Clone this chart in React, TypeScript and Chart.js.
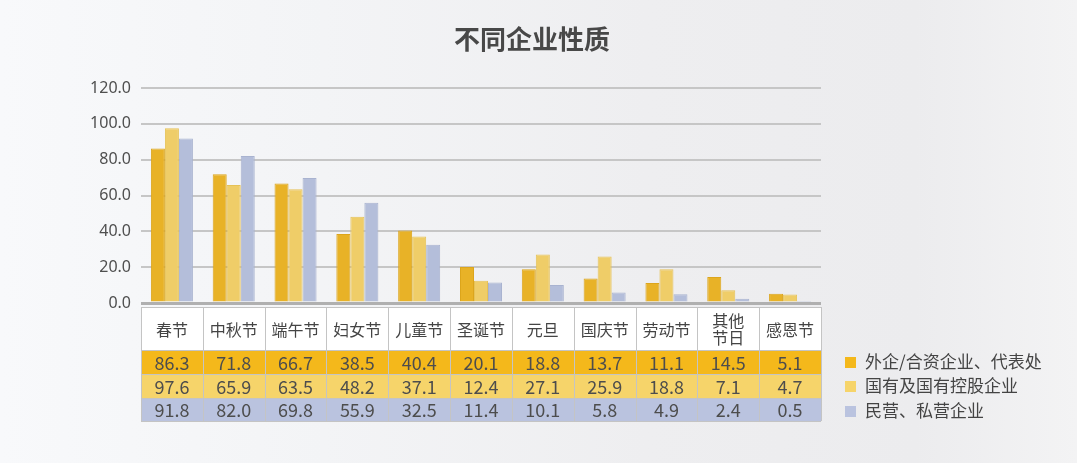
import React, { useEffect, useRef } from "react";
import { Chart, registerables } from "chart.js";

Chart.register(...registerables);

const title = "不同企业性质";
const categories = ["春节", "中秋节", "端午节", "妇女节", "儿童节", "圣诞节", "元旦", "国庆节", "劳动节", "其他\n节日", "感恩节"];
const seriesNames = ["外企/合资企业、代表处", "国有及国有控股企业", "民营、私营企业"];
const foreignJV = [86.3, 71.8, 66.7, 38.5, 40.4, 20.1, 18.8, 13.7, 11.1, 14.5, 5.1];
const stateOwned = [97.6, 65.9, 63.5, 48.2, 37.1, 12.4, 27.1, 25.9, 18.8, 7.1, 4.7];
const privateEnt = [91.8, 82.0, 69.8, 55.9, 32.5, 11.4, 10.1, 5.8, 4.9, 2.4, 0.5];
const yTicks = [0, 20, 40, 60, 80, 100, 120];

const barColors = ["#E8B227", "#EFCD68", "#B4BEDA"];
const barBorders = ["#DCA51C", "#E6C257", "#A9B3D0"];
const rowColors = ["#F4B81B", "#F6D46A", "#BAC3DF"];

const FONT = '"Noto Sans CJK SC", "Noto Sans", sans-serif';

const tablePlugin = {
  id: "tableAndTitle",
  beforeDraw(chart: any) {
    const { ctx, width, height } = chart;
    ctx.save();
    const g = ctx.createLinearGradient(0, 0, width, 0);
    g.addColorStop(0, "#f8f9fb");
    g.addColorStop(0.3, "#f3f4f6");
    g.addColorStop(0.6, "#eeeef0");
    g.addColorStop(0.85, "#ececee");
    g.addColorStop(1, "#f3f3f4");
    ctx.fillStyle = g;
    ctx.fillRect(0, 0, width, height);
    ctx.restore();
  },
  afterDraw(chart: any) {
    const { ctx, chartArea } = chart;
    const x = chart.scales.x;
    const n = categories.length;
    const colW = (chartArea.right - chartArea.left) / n;
    const left = chartArea.left;
    const right = chartArea.right;
    ctx.save();
    // title
    ctx.fillStyle = "#484848";
    ctx.font = `bold 26px ${FONT}`;
    ctx.textAlign = "center";
    ctx.textBaseline = "middle";
    ctx.fillText(title, 532, 39);

    const headTop = 307;
    const headBot = 350;
    const rowBounds = [350, 374, 398, 421];
    ctx.fillStyle = "#ffffff";
    ctx.fillRect(left, headTop, right - left, headBot - headTop);
    const series = [foreignJV, stateOwned, privateEnt];
    for (let r = 0; r < 3; r++) {
      ctx.fillStyle = rowColors[r];
      ctx.fillRect(left, rowBounds[r], right - left, rowBounds[r + 1] - rowBounds[r]);
    }
    ctx.strokeStyle = "#c4c4c4";
    ctx.lineWidth = 1;
    for (let i = 0; i <= n; i++) {
      const xx = Math.round(left + i * colW) + 0.5;
      ctx.beginPath();
      ctx.moveTo(xx, headTop);
      ctx.lineTo(xx, rowBounds[3]);
      ctx.stroke();
    }
    [headTop, headBot, rowBounds[1], rowBounds[2], rowBounds[3]].forEach((yy) => {
      ctx.beginPath();
      ctx.moveTo(left, yy + 0.5);
      ctx.lineTo(right, yy + 0.5);
      ctx.stroke();
    });
    ctx.fillStyle = "#444444";
    ctx.font = `16px ${FONT}`;
    for (let i = 0; i < n; i++) {
      const cx = x.getPixelForValue(i);
      const lines = categories[i].split("\n");
      const lh = 17;
      const cy = (headTop + headBot) / 2 + 1;
      lines.forEach((l, k) => {
        ctx.fillText(l, cx, cy + (k - (lines.length - 1) / 2) * lh);
      });
    }
    ctx.fillStyle = "#4d4d4d";
    ctx.font = `18px ${FONT}`;
    for (let r = 0; r < 3; r++) {
      const cy = (rowBounds[r] + rowBounds[r + 1]) / 2 + 1;
      for (let i = 0; i < n; i++) {
        ctx.fillText(series[r][i].toFixed(1), x.getPixelForValue(i), cy);
      }
    }
    const legY = [362, 386, 411];
    ctx.textAlign = "left";
    ctx.font = `17px ${FONT}`;
    for (let r = 0; r < 3; r++) {
      ctx.fillStyle = rowColors[r];
      ctx.fillRect(845, legY[r] - 5, 11, 11);
      ctx.fillStyle = "#444444";
      ctx.fillText(seriesNames[r], 865, legY[r]);
    }
    ctx.restore();
  },
};

export default function App() {
  const ref = useRef<HTMLCanvasElement>(null);
  useEffect(() => {
    document.body.style.margin = "0";
    const chart = new Chart(ref.current as HTMLCanvasElement, {
      type: "bar",
      data: {
        labels: categories,
        datasets: [foreignJV, stateOwned, privateEnt].map((d, i) => ({
          label: seriesNames[i],
          data: d,
          backgroundColor: barColors[i],
          borderColor: barBorders[i],
          borderWidth: 1,
          categoryPercentage: 0.68,
          barPercentage: 1.0,
        })),
      },
      options: {
        responsive: false,
        animation: false,
        layout: { padding: { left: 0, top: 88, right: 256, bottom: 160 } },
        plugins: { legend: { display: false }, title: { display: false }, tooltip: { enabled: false } },
        scales: {
          x: {
            display: false,
            grid: { display: false },
          },
          y: {
            min: 0,
            max: 120,
            afterFit: (axis: any) => {
              axis.width = 141;
            },
            afterBuildTicks: (axis: any) => {
              axis.ticks = yTicks.map((v) => ({ value: v }));
            },
            border: { display: false },
            grid: {
              drawTicks: false,
              color: (c: any) => (c.tick && c.tick.value === 0 ? "#b0b0b0" : "#c6c6c6"),
              lineWidth: (c: any) => (c.tick && c.tick.value === 0 ? 3 : 2),
            },
            ticks: {
              padding: 10,
              color: "#4f4f4f",
              font: { family: '"Noto Sans", sans-serif', size: 16 },
              callback: (v: any) => Number(v).toFixed(1),
            },
          },
        },
      },
      plugins: [tablePlugin],
    });
    return () => chart.destroy();
  }, []);
  return (
    <div style={{ position: "absolute", left: 0, top: 0, width: 1077, height: 463 }}>
      <canvas ref={ref} width={1077} height={463} style={{ width: 1077, height: 463, display: "block" }} />
    </div>
  );
}
